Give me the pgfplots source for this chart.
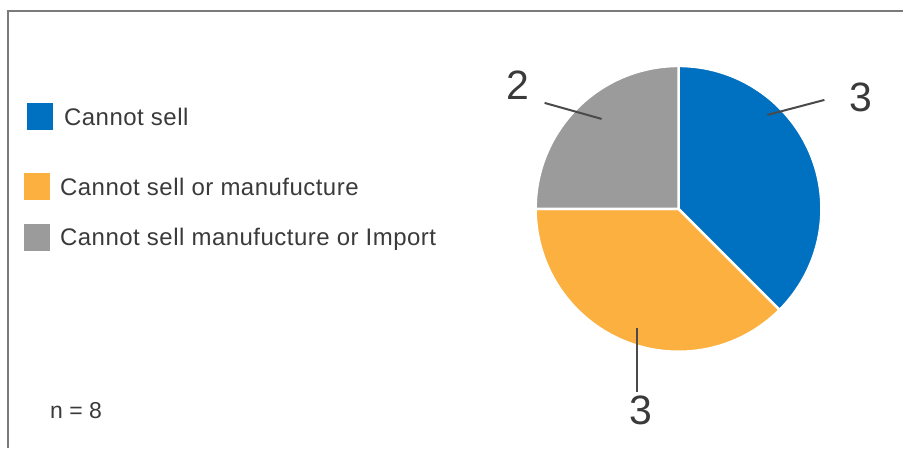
\documentclass[border=0pt]{standalone}
\usepackage{pgfplots}
\usepackage{pgfplotstable}
\usepackage{fontspec}
\setmainfont{Liberation Sans}
\pgfplotsset{compat=1.18}

\definecolor{cblue}{HTML}{0070C0}
\definecolor{corange}{HTML}{FBB040}
\definecolor{cgray}{HTML}{9B9B9B}
\definecolor{ctext}{HTML}{3A3A3A}
\definecolor{cline}{HTML}{4A4A4A}
\definecolor{cframe}{HTML}{7A7A7A}

\newcommand\legfont{\fontsize{24}{28}\selectfont\addfontfeatures{LetterSpace=2}}

% pie slices, clockwise from 12 o'clock
\pgfplotstableread{
label   value color
blue    3     cblue
orange  3     corange
gray    2     cgray
}\piedata

\begin{document}
\begin{tikzpicture}
\begin{axis}[
    scale only axis,
    width=904pt, height=448pt,
    xmin=0, xmax=904, ymin=0, ymax=448,
    y dir=reverse,
    hide axis,
    clip=false,
  ]
  \path (axis cs:0,0) rectangle (axis cs:904,448);
  % frame
  \draw[cframe, line width=1.3pt] (axis cs:8,448) -- (axis cs:8,11) -- (axis cs:904,11);

  % pie
  \def\total{8}
  \pgfplotstablegetrowsof{\piedata}
  \pgfmathtruncatemacro\nlast{\pgfplotsretval-1}
  \xdef\angstart{90}
  \foreach \i in {0,...,\nlast}{
    \pgfplotstablegetelem{\i}{value}\of\piedata
    \pgfmathsetmacro\sweep{\pgfplotsretval*360/\total}
    \pgfmathsetmacro\angend{\angstart-\sweep}
    \pgfplotstablegetelem{\i}{color}\of\piedata
    \edef\temp{\noexpand\fill[\pgfplotsretval, draw=white, line width=2.5pt]
      (axis cs:679,209) -- ++(\angstart:143pt)
      arc[start angle=\angstart, end angle=\angend, radius=143pt] -- cycle;}
    \temp
    \xdef\angstart{\angend}
  }

  % slice labels
  \draw[cline, line width=2pt] (axis cs:768,115) -- (axis cs:825,100);
  \node[ctext, font=\fontsize{41}{44}\selectfont] at (axis cs:862,97) {3};
  \draw[cline, line width=2pt] (axis cs:602,119) -- (axis cs:545,103);
  \node[ctext, font=\fontsize{41}{44}\selectfont] at (axis cs:518,85) {2};
  \draw[cline, line width=2pt] (axis cs:637,328) -- (axis cs:637,392);
  \node[ctext, font=\fontsize{41}{44}\selectfont] at (axis cs:641,411) {3};

  % legend
  \fill[cblue] (axis cs:27,103) rectangle (axis cs:53,130);
  \node[ctext, anchor=west, inner sep=0pt, font=\legfont] at (axis cs:64,117) {Cannot sell};
  \fill[corange] (axis cs:24,173) rectangle (axis cs:50,200);
  \node[ctext, anchor=west, inner sep=0pt, font=\legfont] at (axis cs:60,187) {Cannot sell or manufucture};
  \fill[cgray] (axis cs:24,224) rectangle (axis cs:50,251);
  \node[ctext, anchor=west, inner sep=0pt, font=\legfont] at (axis cs:60,239) {Cannot sell manufucture or Import};

  \node[ctext, anchor=west, inner sep=0pt, font=\fontsize{23}{26}\selectfont] at (axis cs:50,411) {n = 8};
\end{axis}
\end{tikzpicture}
\end{document}
